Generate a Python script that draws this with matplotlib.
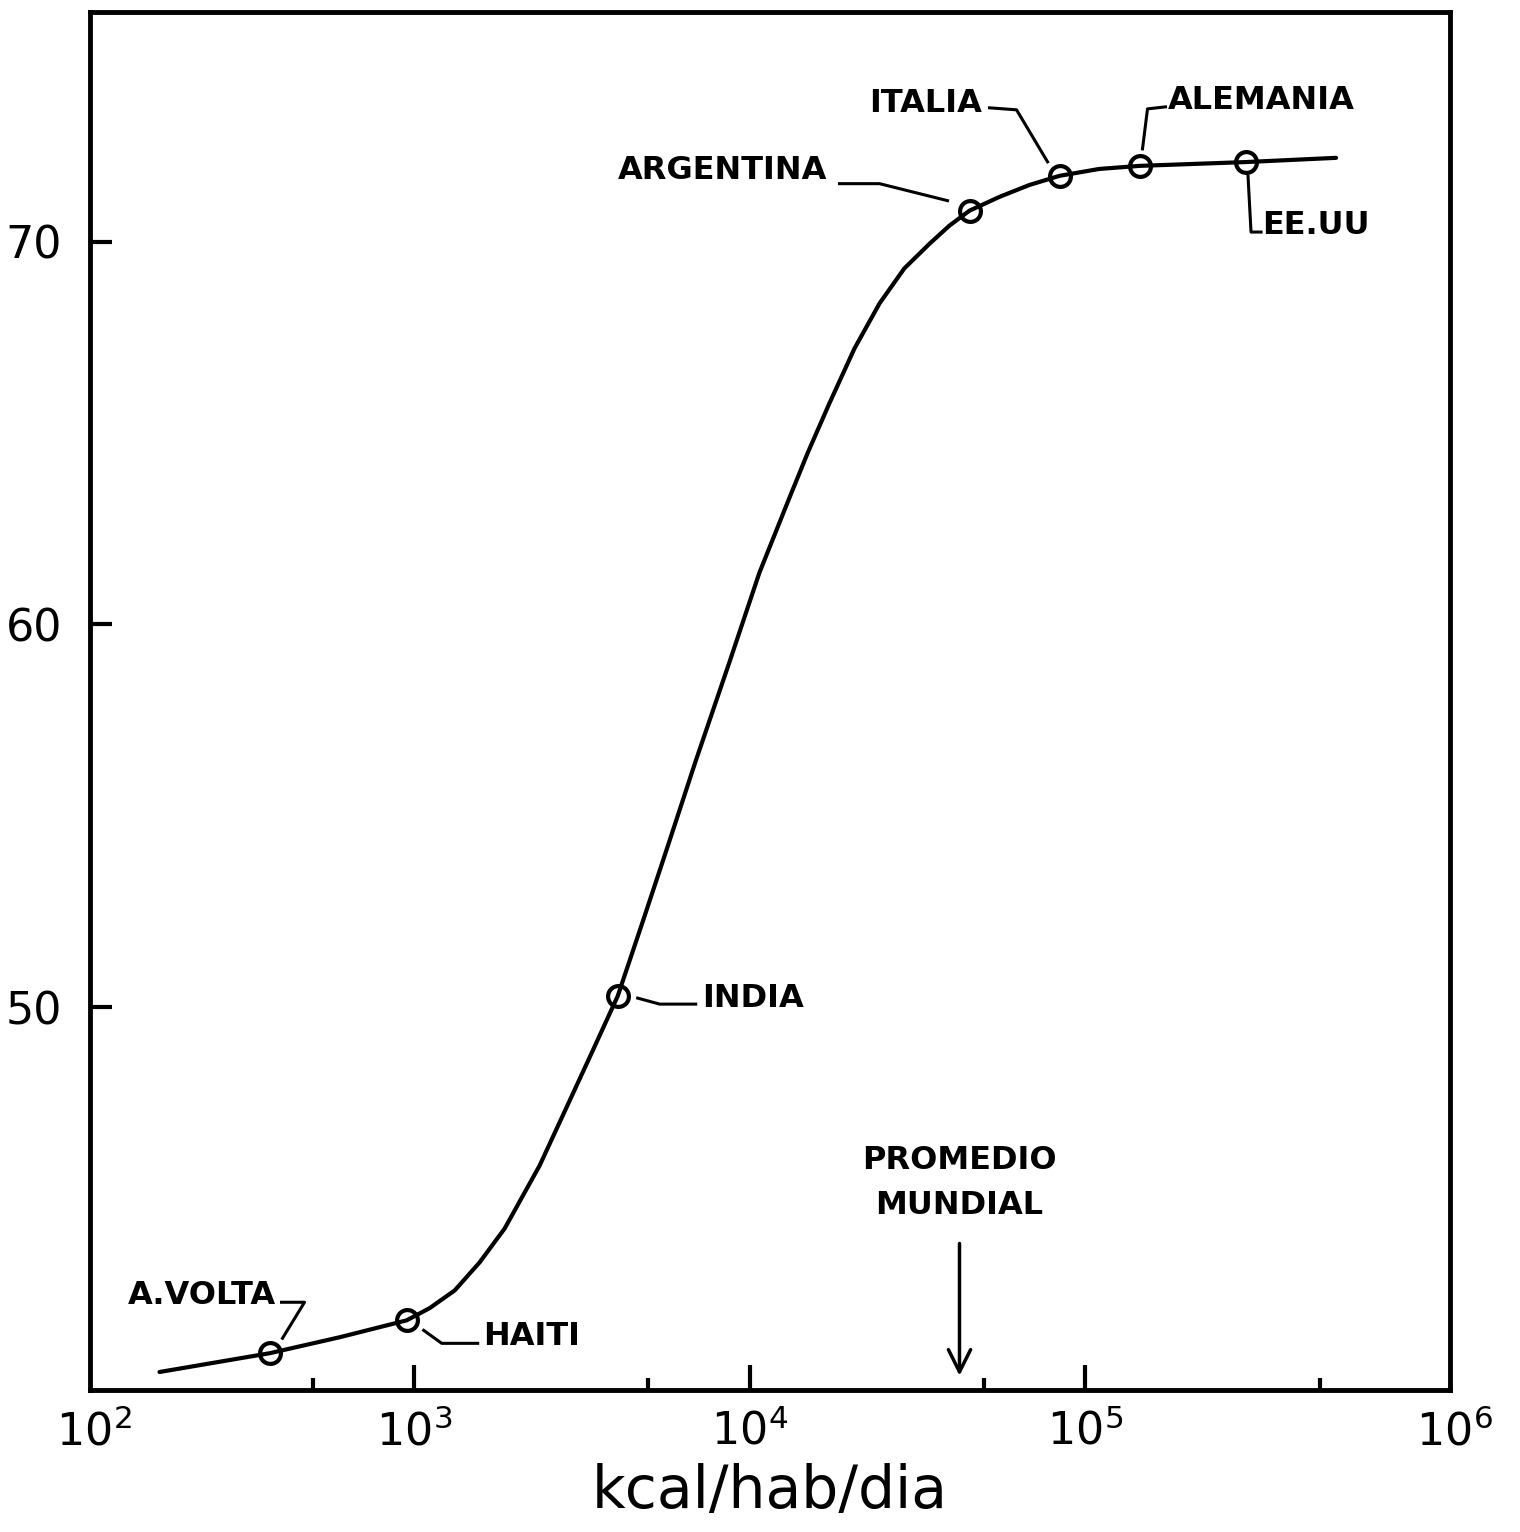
import matplotlib
matplotlib.use('Agg')
import matplotlib.pyplot as plt
from matplotlib.lines import Line2D
from matplotlib.ticker import NullFormatter
from matplotlib.transforms import IdentityTransform

# curva: energia consumida (kcal/hab/dia) vs esperanza de vida (anos)
curva_kcal = [175, 372, 603, 953, 1116, 1324, 1570, 1866, 2140, 2370, 2910, 3460,
              4050, 4810, 5700, 6900, 8710, 10700, 13150, 14900, 17300, 20540,
              24400, 28900, 34400, 39400, 45200, 55500, 68100, 83800, 110000,
              145000, 301000, 558000]
curva_vida = [40.47, 40.96, 41.38, 41.82, 42.14, 42.60, 43.33, 44.22, 45.16, 45.86,
              47.55, 48.98, 50.29, 52.24, 54.19, 56.41, 59.01, 61.35, 63.31, 64.48,
              65.78, 67.21, 68.39, 69.30, 69.95, 70.42, 70.81, 71.17, 71.48, 71.72,
              71.90, 71.98, 72.08, 72.19]

# paises marcados
paises = ['A.VOLTA', 'HAITI', 'INDIA', 'ARGENTINA', 'ITALIA', 'ALEMANIA', 'EE.UU']
paises_kcal = [372, 953, 4050, 45200, 83800, 145000, 301000]
paises_vida = [40.96, 41.82, 50.29, 70.81, 71.72, 71.98, 72.08]

promedio_mundial = 42200

xticks_mayores = [1e3, 1e4, 1e5]
xticks_menores = [5e2, 5e3, 5e4, 5e5]
xtick_labels = [r'$10^{3}$', r'$10^{4}$', r'$10^{5}$']
yticks = [50, 60, 70]

# lineas guia (pixeles desde el punto) y posicion del texto
guias = {
    'A.VOLTA': ([13, 35, 12], [15, 51, 51], (6, 58), 'right'),
    'HAITI': ([17, 35, 71], [-10, -23, -23], (76, -16), 'left'),
    'INDIA': ([20, 42, 78], [-2, -8, -8], (84, -2), 'left'),
    'ARGENTINA': ([-22, -90, -130], [10, 27, 27], (-142, 40), 'right'),
    'ITALIA': ([-12, -43, -70], [14, 66, 68], (-78, 72), 'right'),
    'ALEMANIA': ([3, 8, 26], [17, 57, 59], (28, 65), 'left'),
    'EE.UU': ([2, 5, 15], [-14, -70, -70], (16, -63), 'left'),
}

W, H = 1520, 1532
fig = plt.figure(figsize=(W / 100, H / 100), dpi=100)
ax = fig.add_axes([90 / W, 1 - 1390 / H, 1360 / W, 1378 / H])

ax.set_xscale('log')
ax.set_xlim(10 ** 2.036, 10 ** 6.086)
ax.set_ylim(40, 76)

for s in ax.spines.values():
    s.set_linewidth(3.5)

ax.set_xticks(xticks_mayores)
ax.set_xticklabels(xtick_labels)
ax.set_xticks(xticks_menores, minor=True)
ax.xaxis.set_minor_formatter(NullFormatter())
ax.set_yticks(yticks)
ax.yaxis.set_minor_locator(plt.NullLocator())
ax.tick_params(axis='x', which='major', direction='in', length=18, width=3,
               labelsize=32, pad=14)
ax.tick_params(axis='x', which='minor', direction='in', length=9, width=3)
ax.tick_params(axis='y', which='major', direction='in', length=16, width=3,
               labelsize=32, pad=20)

# etiquetas de los extremos del eje x
for xf, lab in [(0, r'$10^{2}$'), (1, r'$10^{6}$')]:
    ax.annotate(lab, xy=(xf, 0), xycoords='axes fraction', xytext=(4, -20),
                textcoords='offset pixels', ha='center', va='top', fontsize=32)

ax.set_xlabel('kcal/hab/dia', fontsize=42)
ax.xaxis.set_label_coords(0.5, -0.053)

ax.plot(curva_kcal, curva_vida, color='black', lw=3, solid_capstyle='round',
        solid_joinstyle='round')
ax.plot(paises_kcal, paises_vida, 'o', mfc='none', mec='black', ms=15, mew=3)

for nombre, k, v in zip(paises, paises_kcal, paises_vida):
    dx, dy, (tx, ty), ha = guias[nombre]
    bx, by = ax.transData.transform((k, v))
    ln = Line2D([bx + a for a in dx], [by + b for b in dy], color='black', lw=2.2,
                transform=IdentityTransform(), clip_on=False)
    ax.add_line(ln)
    ax.annotate(nombre, xy=(k, v), xytext=(tx, ty), textcoords='offset pixels',
                ha=ha, va='center', fontsize=23, fontweight='bold')

ax.annotate('', xy=(promedio_mundial, 40.3), xytext=(promedio_mundial, 43.9),
            arrowprops=dict(arrowstyle='->', lw=2.5, color='black',
                            mutation_scale=40))
ax.text(promedio_mundial, 45.4, 'PROMEDIO\nMUNDIAL', ha='center', va='center',
        fontsize=23, fontweight='bold', linespacing=1.6)

fig.savefig('out.png', dpi=100, facecolor='white')
